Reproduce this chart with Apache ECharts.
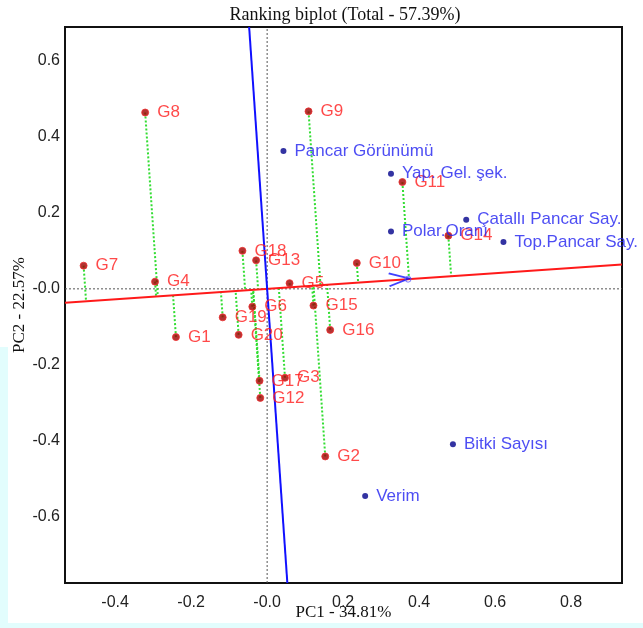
<!DOCTYPE html>
<html>
<head>
<meta charset="utf-8">
<script src="https://cdn.jsdelivr.net/npm/echarts@6/dist/echarts.min.js"></script>
<style>html,body{margin:0;padding:0;background:#fff}#c{width:643px;height:628px}</style>
</head>
<body>
<div id="c"></div>
<script>
// ---- data ----
const genoNames = ['G1','G2','G3','G4','G5','G6','G7','G8','G9','G10','G11','G12','G13','G14','G15','G16','G17','G18','G19','G20'];
const genoPC1 = [-0.240, 0.153, 0.047, -0.295, 0.059, -0.039, -0.483, -0.321, 0.109, 0.236, 0.356, -0.018, -0.029, 0.477, 0.122, 0.166, -0.020, -0.065, -0.117, -0.075];
const genoPC2 = [-0.127, -0.441, -0.234, 0.019, 0.015, -0.047, 0.061, 0.464, 0.467, 0.068, 0.281, -0.287, 0.075, 0.140, -0.044, -0.108, -0.242, 0.100, -0.075, -0.121];
const traitNames = ['Pancar Görünümü','Yap. Gel. şek.','Polar.Oranı','Çatallı Pancar Say.','Top.Pancar Say.','Bitki Sayısı','Verim'];
const traitPC1 = [0.043, 0.326, 0.326, 0.524, 0.622, 0.489, 0.258];
const traitPC2 = [0.363, 0.303, 0.151, 0.182, 0.123, -0.409, -0.545];
const aecPoint = [0.371, 0.0255];   // average environment (arrow tip)
const xTicks = [-0.4, -0.2, 0.0, 0.2, 0.4, 0.6, 0.8];
const yTicks = [-0.6, -0.4, -0.2, 0.0, 0.2, 0.4, 0.6];
const xRange = [-0.532, 0.934];
const yRange = [-0.774, 0.689];

// ---- derived geometry ----
const ux = aecPoint[0], uy = aecPoint[1];
const un = Math.sqrt(ux*ux + uy*uy);
const dx = ux/un, dy = uy/un;
const slope = uy/ux;
const aecLine = [[xRange[0], slope*xRange[0]], [xRange[1], slope*xRange[1]]];
const perpLine = [[-slope*yRange[1], yRange[1]], [-slope*yRange[0], yRange[0]]];
const projLines = genoNames.map((n,i)=>{
  const t = genoPC1[i]*dx + genoPC2[i]*dy;
  return {coords: [[genoPC1[i], genoPC2[i]], [t*dx, t*dy]]};
});
const genoData = genoNames.map((n,i)=>[genoPC1[i], genoPC2[i], n]);
const traitData = traitNames.map((n,i)=>[traitPC1[i], traitPC2[i], n]);
const fmt = v => (Math.abs(v) < 1e-9 ? '-0.0' : v.toFixed(1));
const lblFont = 'Liberation Sans';
const angle = Math.atan(slope)*180/Math.PI;

const chart = echarts.init(document.getElementById('c'), null, {renderer:'canvas'});
chart.setOption({
  animation: false,
  backgroundColor: '#ffffff',
  graphic: [
    {type:'rect', shape:{x:0,y:347,width:8,height:281}, style:{fill:'#e2fdfd'}, z:-10},
    {type:'rect', shape:{x:0,y:623,width:643,height:5}, style:{fill:'#e2fdfd'}, z:-10},
    {type:'text', x:345, y:15, style:{text:'Ranking biplot (Total - 57.39%)', font:'18px "Liberation Serif"', fill:'#111', textAlign:'center', textVerticalAlign:'middle'}}
  ],
  grid: {left:65, top:27, right:21, bottom:45, show:true, borderColor:'#111', borderWidth:2, backgroundColor:'#fff', containLabel:false, outerBoundsMode:'none'},
  xAxis: {
    type:'value', min:xRange[0], max:xRange[1],
    name:'PC1 - 34.81%', nameLocation:'middle', nameGap:21, nameMoveOverlap:false,
    nameTextStyle:{fontFamily:'Liberation Serif', fontSize:17, color:'#111'},
    axisLine:{show:false}, axisTick:{show:false}, splitLine:{show:false},
    axisLabel:{customValues:xTicks, formatter:fmt, fontFamily:lblFont, fontSize:16, color:'#222', margin:12}
  },
  yAxis: {
    type:'value', min:yRange[0], max:yRange[1],
    name:'PC2 - 22.57%', nameLocation:'middle', nameGap:37, nameRotate:90, nameMoveOverlap:false,
    nameTextStyle:{fontFamily:'Liberation Serif', fontSize:17, color:'#111'},
    axisLine:{show:false}, axisTick:{show:false}, splitLine:{show:false},
    axisLabel:{customValues:yTicks, formatter:fmt, fontFamily:lblFont, fontSize:16, color:'#222', margin:5}
  },
  series: [
    {type:'line', data:[[0,yRange[0]],[0,yRange[1]]], symbol:'none', lineStyle:{color:'#555', width:1, type:[2,2]}, z:1, silent:true},
    {type:'line', data:[[xRange[0],0],[xRange[1],0]], symbol:'none', lineStyle:{color:'#555', width:1, type:[2,2]}, z:1, silent:true},
    {type:'lines', coordinateSystem:'cartesian2d', data:projLines, lineStyle:{color:'#33dd33', width:2, type:[2,2], opacity:1}, z:2, silent:true},
    {type:'line', data:aecLine, symbol:'none', lineStyle:{color:'#ff1a1a', width:2}, z:3, silent:true},
    {type:'line', data:perpLine, symbol:'none', lineStyle:{color:'#1010ff', width:2}, z:3, silent:true},
    {type:'scatter', data:[aecPoint], symbol:'path://M0,0 L20,8 L0,16', symbolSize:[20,16], symbolOffset:[-9,0], symbolRotate:angle, symbolKeepAspect:true,
      itemStyle:{color:'rgba(0,0,0,0)', borderColor:'#1010ff', borderWidth:2}, z:4, silent:true},
    {type:'scatter', data:[aecPoint], symbol:'circle', symbolSize:6, itemStyle:{color:'rgba(0,0,0,0)', borderColor:'#6060ff', borderWidth:1}, z:4, silent:true},
    {type:'scatter', data:genoData, symbol:'circle', symbolSize:7,
      itemStyle:{color:'#a00000', borderColor:'#ee3030', borderWidth:1},
      label:{show:true, position:'right', distance:8, formatter:p=>p.data[2], color:'#ff1c1c', fontFamily:lblFont, fontSize:17},
      z:5, silent:true},
    {type:'scatter', data:traitData, symbol:'circle', symbolSize:6,
      itemStyle:{color:'#00008b'},
      label:{show:true, position:'right', distance:8, formatter:p=>p.data[2], color:'#2020f0', fontFamily:lblFont, fontSize:17},
      labelLayout:{hideOverlap:false}, z:6, silent:true}
  ]
});
</script>
</body>
</html>
